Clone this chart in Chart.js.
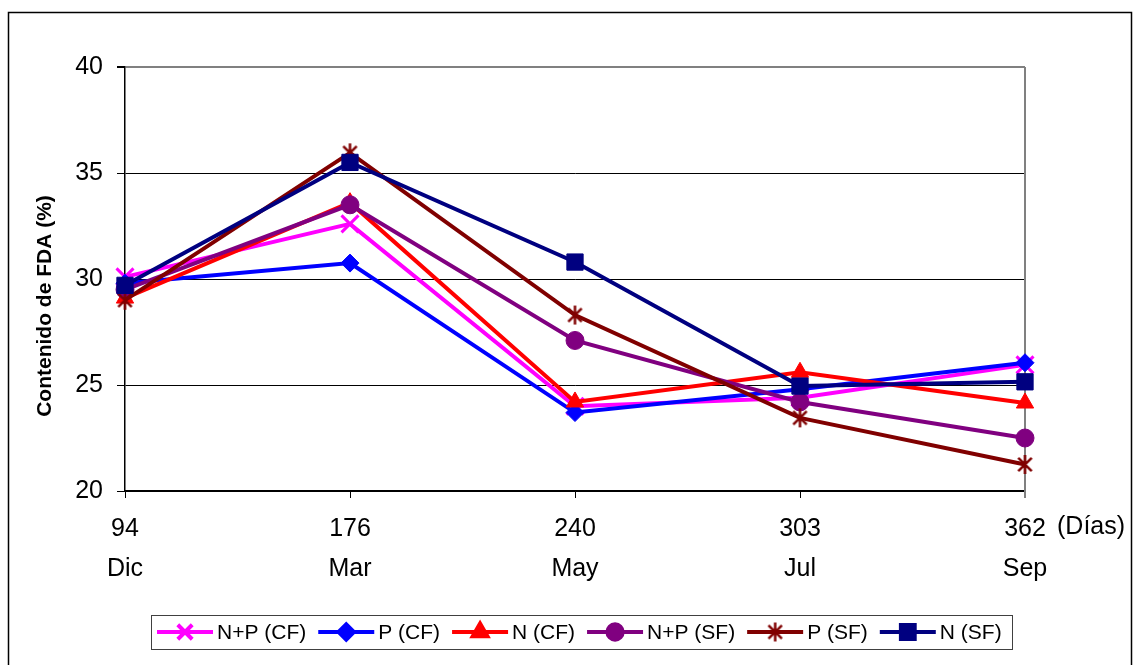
<!DOCTYPE html>
<html>
<head>
<meta charset="utf-8">
<script src="https://cdn.jsdelivr.net/npm/chart.js@4/dist/chart.umd.min.js"></script>
<style>
  html, body { margin: 0; padding: 0; background: #fff; }
  #wrap { width: 1133px; height: 665px; position: relative; }
</style>
</head>
<body>
<div id="wrap"><canvas id="c" width="1133" height="665"></canvas></div>
<script>
// Sampling days and months
const days = ['94', '176', '240', '303', '362'];
const months = ['Dic', 'Mar', 'May', 'Jul', 'Sep'];

// Series names
const seriesNames = ['N+P (CF)', 'P (CF)', 'N (CF)', 'N+P (SF)', 'P (SF)', 'N (SF)'];

// FDA content (%) per series
const npCF = [30.1, 32.6, 24.0, 24.4, 25.95];
const pCF  = [29.8, 30.75, 23.7, 24.8, 26.05];
const nCF  = [29.1, 33.6, 24.2, 25.6, 24.15];
const npSF = [29.5, 33.5, 27.1, 24.2, 22.5];
const pSF  = [29.0, 35.95, 28.3, 23.45, 21.25];
const nSF  = [29.7, 35.5, 30.8, 24.95, 25.15];

// Y axis ticks
const yMin = 20, yMax = 40, yStep = 5;

const FONT = '"Liberation Sans", Arial, sans-serif';

// Six-armed asterisk marker (X plus vertical bar)
function asterisk(size, color, lw) {
  const c = document.createElement('canvas');
  c.width = size; c.height = size;
  const g = c.getContext('2d');
  const m = size / 2, r = size / 2 - 1;
  const d = r * Math.SQRT1_2;
  g.strokeStyle = color; g.lineWidth = lw; g.lineCap = 'butt';
  g.beginPath();
  g.moveTo(m - d, m - d); g.lineTo(m + d, m + d);
  g.moveTo(m + d, m - d); g.lineTo(m - d, m + d);
  g.moveTo(m, m - r); g.lineTo(m, m + r);
  g.stroke();
  return c;
}

const styles = [
  { color: '#FF00FF', point: 'crossRot', radius: 12, pbw: 3 },
  { color: '#0000FF', point: 'rectRot', radius: 9, pbw: 1 },
  { color: '#FF0000', point: 'triangle', radius: 10, pbw: 1 },
  { color: '#800080', point: 'circle', radius: 9, pbw: 1 },
  { color: '#800000', point: asterisk(21, '#800000', 2.5), radius: 10, pbw: 1 },
  { color: '#000080', point: 'rect', radius: 11.5, pbw: 1 }
];
const seriesData = [npCF, pCF, nCF, npSF, pSF, nSF];

const datasets = seriesData.map((vals, i) => ({
  label: seriesNames[i],
  data: vals,
  borderColor: styles[i].color,
  backgroundColor: styles[i].color,
  borderWidth: 4,
  pointStyle: styles[i].point,
  pointRadius: styles[i].radius,
  pointBorderWidth: styles[i].pbw,
  pointBorderColor: styles[i].color,
  pointBackgroundColor: styles[i].color,
  tension: 0,
  order: seriesData.length - i
}));

const decorations = {
  id: 'decorations',
  beforeDatasetsDraw(chart) {
    const { ctx, chartArea: a } = chart;
    ctx.save();
    ctx.strokeStyle = '#808080';
    ctx.lineWidth = 2;
    ctx.beginPath();
    ctx.moveTo(a.right, a.top);
    ctx.lineTo(a.right, a.bottom + 7);
    ctx.stroke();
    ctx.restore();
  },
  afterDraw(chart) {
    const { ctx } = chart;
    ctx.save();
    // outer frame
    ctx.strokeStyle = '#000';
    ctx.lineWidth = 1.5;
    ctx.strokeRect(8.5, 12.5, 1123, 700);

    // y axis title
    ctx.save();
    ctx.translate(45, 306);
    ctx.rotate(-Math.PI / 2);
    ctx.font = 'bold 21px ' + FONT;
    ctx.fillStyle = '#000';
    ctx.textAlign = 'center';
    ctx.textBaseline = 'middle';
    ctx.fillText('Contenido de FDA (%)', 0, 0);
    ctx.restore();

    // unit label beside the last day
    const xs = chart.scales.x;
    const lastX = xs.getPixelForTick(days.length - 1);
    ctx.font = '25px ' + FONT;
    ctx.fillStyle = '#000';
    ctx.textAlign = 'left';
    ctx.textBaseline = 'middle';
    ctx.fillText('(Días)', lastX + 32, 527);

    // legend
    const lx = 151, ly = 615, lw = 861, lh = 34;
    ctx.strokeStyle = '#404040';
    ctx.lineWidth = 1;
    ctx.strokeRect(lx + 0.5, ly + 0.5, lw, lh);
    ctx.font = '21px ' + FONT;
    const cy = ly + lh / 2;
    let x = 157;
    chart.data.datasets.forEach((ds, i) => {
      ctx.strokeStyle = ds.borderColor;
      ctx.lineWidth = 4;
      ctx.beginPath();
      ctx.moveTo(x, cy); ctx.lineTo(x + 56, cy);
      ctx.stroke();
      ctx.fillStyle = ds.backgroundColor;
      Chart.helpers.drawPoint(ctx, {
        pointStyle: ds.pointStyle,
        radius: ds.pointRadius * 0.85,
        borderWidth: ds.pointBorderWidth,
        rotation: 0
      }, x + 28, cy);
      ctx.fillStyle = '#000';
      ctx.textAlign = 'left';
      ctx.textBaseline = 'middle';
      ctx.fillText(ds.label, x + 60, cy + 1);
      x += 60 + ctx.measureText(ds.label).width + 12;
    });
    ctx.restore();
  }
};

new Chart(document.getElementById('c'), {
  type: 'line',
  data: {
    labels: days.map((d, i) => [d, months[i]]),
    datasets
  },
  options: {
    responsive: false,
    animation: false,
    layout: { padding: { left: 0, right: 108, top: 67, bottom: 0 } },
    plugins: { legend: { display: false }, tooltip: { enabled: false } },
    scales: {
      x: {
        type: 'category',
        offset: false,
        grid: { drawOnChartArea: false, drawTicks: true, tickLength: 7, color: '#000', lineWidth: 1 },
        border: { color: '#000', width: 1.5 },
        ticks: {
          color: '#000',
          font: { family: FONT, size: 25, lineHeight: 1.6 },
          padding: 11,
          maxRotation: 0,
          autoSkip: false
        },
        afterFit(s) { s.height = 665 - 491; }
      },
      y: {
        min: yMin,
        max: yMax,
        grid: {
          color: c => (c.tick && c.tick.value === yMax ? '#808080' : '#000'),
          lineWidth: c => (c.tick && c.tick.value === yMax ? 2 : 1),
          tickLength: 8,
          tickColor: '#000'
        },
        border: { color: '#000', width: 1.5 },
        ticks: {
          stepSize: yStep,
          color: '#000',
          font: { family: FONT, size: 25 },
          padding: 14
        },
        afterFit(s) { s.width = 125; }
      }
    }
  },
  plugins: [decorations]
});
</script>
</body>
</html>
